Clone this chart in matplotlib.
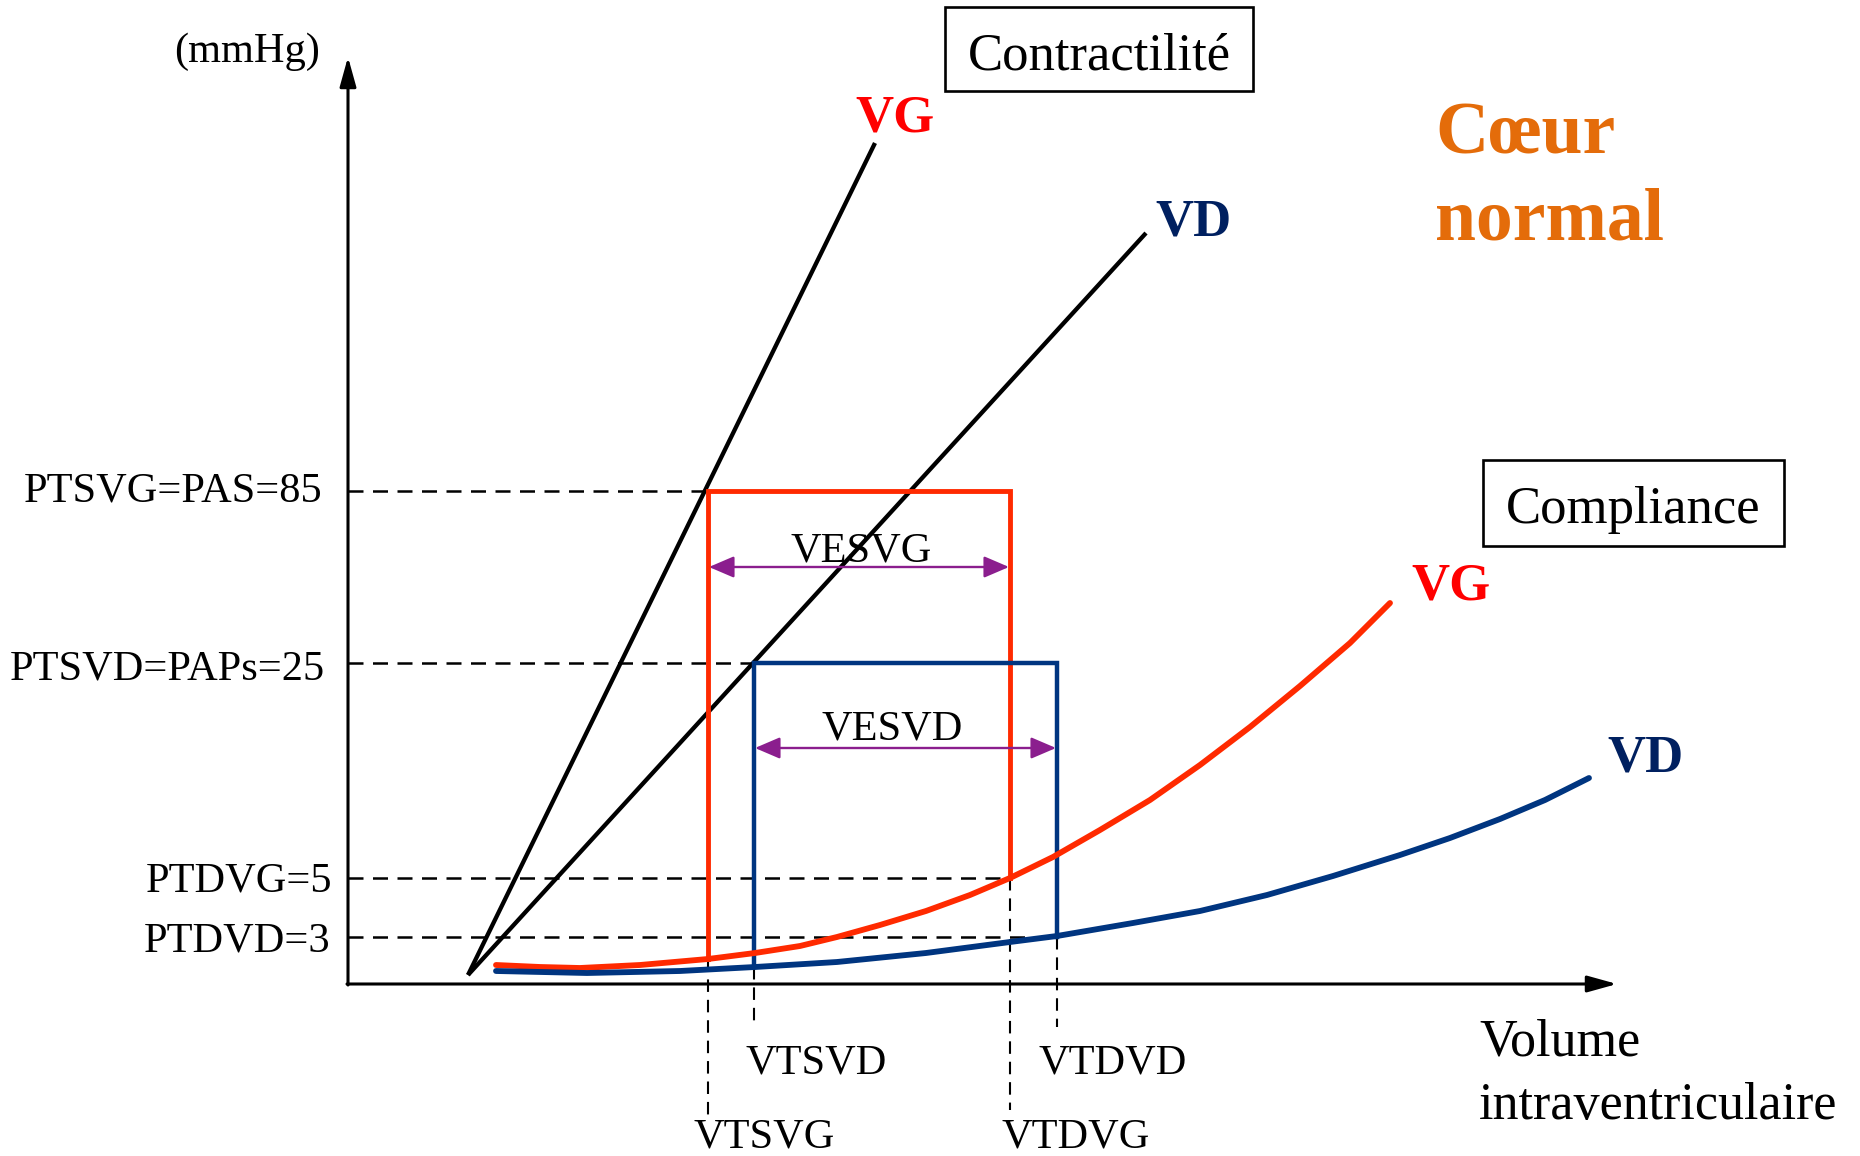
import matplotlib
matplotlib.use("Agg")
import matplotlib.pyplot as plt
from matplotlib.patches import Rectangle

plt.rcParams['font.family'] = ['Liberation Serif', 'DejaVu Serif']

# ---------------- schematic data (drawing units: x = volume, y = pressure, y grows downward) ----
# axes
origin = (348, 984)
y_axis_top = 57
x_axis_end = 1617

# ESPVR (contractility) lines: common start and end points
espvr_start = (468, 975)
espvr_vg_end = (875, 143)
espvr_vd_end = (1146, 233)

# EDPVR (compliance) curves
comp_vg_x = [496, 540, 580, 640, 708, 755, 800, 837, 880, 926, 970, 1010, 1053, 1100, 1150, 1200, 1250, 1300, 1350, 1390]
comp_vg_y = [965, 967, 968, 965, 959, 953, 946, 937, 925, 911, 895, 878, 857, 830, 800, 765, 727, 686, 643, 603]
comp_vd_x = [496, 587, 680, 755, 837, 926, 1010, 1057, 1133, 1200, 1267, 1333, 1400, 1450, 1500, 1545, 1589]
comp_vd_y = [971, 973, 971, 967, 962, 953, 942, 936, 923, 911, 895, 876, 855, 838, 819, 800, 778]

# pressure-volume loops (end-systolic / end-diastolic)
vtsvg, vtdvg = 708, 1010
vtsvd, vtdvd = 754, 1057
ptsvg, ptdvg = 491, 878
ptsvd, ptdvd = 663, 937
loop_vg_bottom_left = 959
loop_vd_bottom_left = 967

pressure_labels = ["PTSVG=PAS=85", "PTSVD=PAPs=25", "PTDVG=5", "PTDVD=3"]
pressure_levels = [ptsvg, ptsvd, ptdvg, ptdvd]
pressure_x_ends = [vtsvg, vtsvd, vtdvg, vtdvd]
pressure_label_right = [322, 325, 332, 330]
pressure_label_base = [502, 679, 891, 952]

volume_labels = ["VTSVD", "VTDVD", "VTSVG", "VTDVG"]
volume_positions = [vtsvd, vtdvd, vtsvg, vtdvg]
volume_line_top = [loop_vd_bottom_left, ptdvd, loop_vg_bottom_left, ptdvg]
volume_line_bottom = [1023, 1027, 1117, 1110]
volume_label_x = [816, 1113, 764, 1076]
volume_label_base = [1073, 1073, 1147, 1147]

# colours
RED_LINE = "#FF2A00"
RED_TEXT = "#FF0000"
BLUE_LINE = "#003580"
BLUE_TEXT = "#002060"
PURPLE = "#8B1E8E"
ORANGE = "#E46C0A"

fig = plt.figure(figsize=(18.6, 11.56), dpi=100)
ax = fig.add_axes([0, 0, 1, 1])
ax.set_xlim(0, 1860)
ax.set_ylim(1156, 0)
ax.axis("off")

# axes with arrows
ax.annotate("", xy=(origin[0], y_axis_top), xytext=(origin[0], origin[1] + 1),
            arrowprops=dict(arrowstyle="-|>,head_length=0.9,head_width=0.25", lw=2.2,
                            color="black", mutation_scale=20, shrinkA=0, shrinkB=0))
ax.annotate("", xy=(x_axis_end, origin[1]), xytext=(origin[0] - 1, origin[1]),
            arrowprops=dict(arrowstyle="-|>,head_length=0.9,head_width=0.25", lw=2.2,
                            color="black", mutation_scale=20, shrinkA=0, shrinkB=0))

dash = (0, (6.0, 3.8))
# horizontal dashed guides
for lvl, xe in zip(pressure_levels, pressure_x_ends):
    ax.plot([origin[0], xe], [lvl, lvl], color="black", lw=1.8, linestyle=dash, zorder=2)
# vertical dashed guides
for xv, yt, yb in zip(volume_positions, volume_line_top, volume_line_bottom):
    ax.plot([xv, xv], [yt, yb], color="black", lw=1.5, linestyle=dash, zorder=2)

# ESPVR lines
ax.plot([espvr_start[0], espvr_vg_end[0]], [espvr_start[1], espvr_vg_end[1]],
        color="black", lw=3.1, solid_capstyle="butt", zorder=3)
ax.plot([espvr_start[0], espvr_vd_end[0]], [espvr_start[1], espvr_vd_end[1]],
        color="black", lw=3.1, solid_capstyle="butt", zorder=3)

# PV loops
ax.plot([vtsvg, vtsvg, vtdvg, vtdvg], [loop_vg_bottom_left, ptsvg, ptsvg, ptdvg],
        color=RED_LINE, lw=3.5, solid_joinstyle="miter", zorder=4)
ax.plot([vtsvd, vtsvd, vtdvd, vtdvd], [loop_vd_bottom_left, ptsvd, ptsvd, ptdvd],
        color=BLUE_LINE, lw=3.2, solid_joinstyle="miter", zorder=4)

# compliance curves
ax.plot(comp_vg_x, comp_vg_y, color=RED_LINE, lw=4.2, solid_capstyle="round",
        solid_joinstyle="round", zorder=5)
ax.plot(comp_vd_x, comp_vd_y, color=BLUE_LINE, lw=4.2, solid_capstyle="round",
        solid_joinstyle="round", zorder=5)

# stroke volume arrows
ax.annotate("", xy=(vtdvg - 1, 567), xytext=(vtsvg + 1, 567),
            arrowprops=dict(arrowstyle="<|-|>,head_length=0.7,head_width=0.3", lw=1.7,
                            color=PURPLE, mutation_scale=22, shrinkA=0, shrinkB=0), zorder=6)
ax.annotate("", xy=(vtdvd - 1, 748), xytext=(vtsvd + 1, 748),
            arrowprops=dict(arrowstyle="<|-|>,head_length=0.7,head_width=0.3", lw=1.7,
                            color=PURPLE, mutation_scale=22, shrinkA=0, shrinkB=0), zorder=6)
ax.text(861, 561, "VESVG", fontsize=30.5, ha="center", va="baseline")
ax.text(892, 740, "VESVD", fontsize=30.5, ha="center", va="baseline")

# axis texts
ax.text(247, 62, "(mmHg)", fontsize=30.5, ha="center", va="baseline")
for lab, xr, yb in zip(pressure_labels, pressure_label_right, pressure_label_base):
    ax.text(xr, yb, lab, fontsize=30.5, ha="right", va="baseline")
for lab, xc, yb in zip(volume_labels, volume_label_x, volume_label_base):
    ax.text(xc, yb, lab, fontsize=30.5, ha="center", va="baseline")
ax.text(1479, 1055, "Volume", fontsize=37.5, ha="left", va="baseline")
ax.text(1479, 1119, "intraventriculaire", fontsize=37.5, ha="left", va="baseline")

# boxes
ax.add_patch(Rectangle((945, 7), 308, 84, fill=False, lw=1.9, edgecolor="black", zorder=6))
ax.text(1099, 70, "Contractilité", fontsize=38, ha="center", va="baseline")
ax.add_patch(Rectangle((1483, 460), 301, 86, fill=False, lw=1.9, edgecolor="black", zorder=6))
ax.text(1633, 523, "Compliance", fontsize=38, ha="center", va="baseline")

# curve labels
ax.text(855, 131, "VG", fontsize=38, fontweight="bold", color=RED_TEXT, ha="left", va="baseline")
ax.text(1155, 236, "VD", fontsize=38, fontweight="bold", color=BLUE_TEXT, ha="left", va="baseline")
ax.text(1411, 599, "VG", fontsize=38, fontweight="bold", color=RED_TEXT, ha="left", va="baseline")
ax.text(1607, 772, "VD", fontsize=38, fontweight="bold", color=BLUE_TEXT, ha="left", va="baseline")

# title
ax.text(1435, 153, "Cœur", fontsize=53, fontweight="bold", color=ORANGE, ha="left", va="baseline")
ax.text(1435, 240, "normal", fontsize=53, fontweight="bold", color=ORANGE, ha="left", va="baseline")

fig.savefig("out.png", dpi=100, facecolor="white")
